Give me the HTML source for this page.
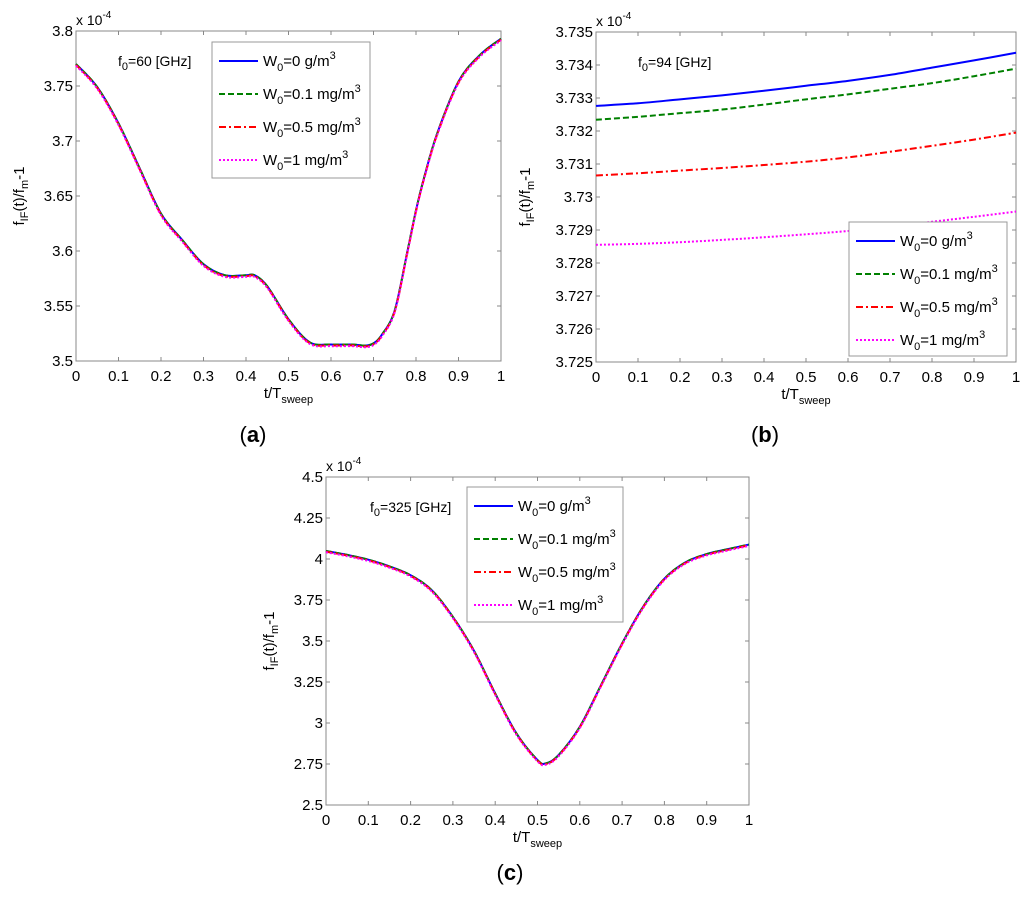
<!DOCTYPE html>
<html><head><meta charset="utf-8"><style>
body{margin:0;background:#fff;}
svg text{font-family:"Liberation Sans",Arial,sans-serif;}
</style></head><body>
<svg id="fig" width="1024" height="892" viewBox="0 0 1024 892" xmlns="http://www.w3.org/2000/svg"></svg>
<script>
// ---------- data ----------
const xTicks = [0,0.1,0.2,0.3,0.4,0.5,0.6,0.7,0.8,0.9,1];
const xTickLabels = ["0","0.1","0.2","0.3","0.4","0.5","0.6","0.7","0.8","0.9","1"];
const seriesNames = ["0 g/m","0.1 mg/m","0.5 mg/m","1 mg/m"];

// panel a (f0=60 GHz), values x1e-4
const aX = [0,0.05,0.1,0.15,0.2,0.25,0.3,0.35,0.4,0.42,0.45,0.5,0.55,0.6,0.65,0.68,0.7,0.72,0.75,0.78,0.8,0.82,0.85,0.9,0.95,1];
const aY = [3.770,3.749,3.716,3.675,3.634,3.610,3.588,3.578,3.578,3.578,3.568,3.538,3.517,3.515,3.515,3.514,3.516,3.524,3.546,3.600,3.637,3.668,3.707,3.754,3.778,3.793];
const aOffsets = [0,0,-0.0008,-0.0015];
const aYTicks = [3.5,3.55,3.6,3.65,3.7,3.75,3.8];
const aYTickLabels = ["3.5","3.55","3.6","3.65","3.7","3.75","3.8"];

// panel b (f0=94 GHz)
const bX = [0,0.1,0.2,0.3,0.4,0.5,0.6,0.7,0.8,0.9,1];
const bBlue = [3.73276,3.73284,3.73296,3.73308,3.73322,3.73337,3.73352,3.73370,3.73392,3.73414,3.73437];
const bGreen = [3.73234,3.73243,3.73254,3.73265,3.73280,3.73296,3.73311,3.73328,3.73345,3.73366,3.73389];
const bRed = [3.73065,3.73072,3.73080,3.73088,3.73097,3.73107,3.73120,3.73137,3.73155,3.73174,3.73195];
const bMagenta = [3.72855,3.72858,3.72863,3.72870,3.72878,3.72887,3.72897,3.72910,3.72925,3.72940,3.72956];
const bYTicks = [3.725,3.726,3.727,3.728,3.729,3.73,3.731,3.732,3.733,3.734,3.735];
const bYTickLabels = ["3.725","3.726","3.727","3.728","3.729","3.73","3.731","3.732","3.733","3.734","3.735"];

// panel c (f0=325 GHz)
const cX = [0,0.05,0.1,0.15,0.2,0.25,0.3,0.35,0.4,0.45,0.5,0.52,0.55,0.6,0.65,0.7,0.75,0.8,0.85,0.9,0.95,1];
const cY = [4.049,4.025,3.996,3.955,3.901,3.810,3.647,3.440,3.180,2.937,2.774,2.754,2.805,2.977,3.230,3.485,3.710,3.880,3.980,4.030,4.060,4.088];
const cOffsets = [0,0,-0.004,-0.008];
const cYTicks = [2.5,2.75,3,3.25,3.5,3.75,4,4.25,4.5];
const cYTickLabels = ["2.5","2.75","3","3.25","3.5","3.75","4","4.25","4.5"];

// ---------- drawing ----------
const NS="http://www.w3.org/2000/svg";
const svg=document.getElementById('fig');
const colors=["#0000ff","#008000","#ff0000","#ff00ff"];
const dashes=["none","6,3","7,3,2,3","2,2"];
function mk(tag,attrs,parent){const e=document.createElementNS(NS,tag);for(const k in attrs)e.setAttribute(k,attrs[k]);(parent||svg).appendChild(e);return e;}
function smoothPath(pts){
  let d="M"+pts[0][0].toFixed(2)+","+pts[0][1].toFixed(2);
  for(let i=0;i<pts.length-1;i++){
    const p0=pts[i-1]||pts[i],p1=pts[i],p2=pts[i+1],p3=pts[i+2]||pts[i+1];
    const c1=[p1[0]+(p2[0]-p0[0])/6,p1[1]+(p2[1]-p0[1])/6];
    const c2=[p2[0]-(p3[0]-p1[0])/6,p2[1]-(p3[1]-p1[1])/6];
    d+=" C"+c1[0].toFixed(2)+","+c1[1].toFixed(2)+" "+c2[0].toFixed(2)+","+c2[1].toFixed(2)+" "+p2[0].toFixed(2)+","+p2[1].toFixed(2);
  }
  return d;
}
function panel(cfg){
  const g=mk('g',{});
  
  
  const {L,R,T,B,ymin,ymax}=cfg;
  const sx=v=>L+(v-0)/(1-0)*(R-L);
  const sy=v=>B-(v-ymin)/(ymax-ymin)*(B-T);
  const fr=mk('rect',{x:L,y:T,width:R-L,height:B-T,fill:'#fff',stroke:'#888','stroke-width':1},g);
  
  
  xTicks.forEach((t,i)=>{
    const x=sx(t);
    mk('line',{x1:x,y1:B,x2:x,y2:B-4,stroke:'#888'},g);
    mk('line',{x1:x,y1:T,x2:x,y2:T+4,stroke:'#888'},g);
    const tx=mk('text',{x:x,y:B+20,'font-size':15,'text-anchor':'middle',fill:'#000'},g);
    tx.textContent=xTickLabels[i];
    
    
  });
  cfg.yTicks.forEach((t,i)=>{
    const y=sy(t);
    mk('line',{x1:L,y1:y,x2:L+4,y2:y,stroke:'#888'},g);
    mk('line',{x1:R,y1:y,x2:R-4,y2:y,stroke:'#888'},g);
    const tx=mk('text',{x:L-3,y:y+5,'font-size':15,'text-anchor':'end',fill:'#000'},g);
    tx.textContent=cfg.yTickLabels[i];
    
    
  });
  const ex=mk('text',{x:L,y:T-6,'font-size':14,fill:'#000'},g);
  ex.innerHTML='x 10<tspan dy="-7" font-size="10">-4</tspan>';
  
  
  cfg.series.forEach((s,i)=>{
    const pts=s.x.map((xv,j)=>[sx(xv),sy(s.y[j])]);
    const p=mk('path',{d:smoothPath(pts),fill:'none',stroke:colors[i],'stroke-width':2,'stroke-dasharray':dashes[i]},g);
    
    
  });
  const an=mk('text',{x:cfg.annX,y:cfg.annY,'font-size':14,fill:'#000'},g);
  an.innerHTML='f<tspan dy="4" font-size="11">0</tspan><tspan dy="-4">='+cfg.freq+' [GHz]</tspan>';
  
  
  const lg=mk('g',{},g);
  
  
  mk('rect',{x:cfg.lx,y:cfg.ly,width:cfg.lw,height:cfg.lh,fill:'#fff',stroke:'#999'},lg);
  seriesNames.forEach((n,i)=>{
    const y=cfg.ly+19+i*33;
    const e=mk('g',{},lg);
    
    
    mk('line',{x1:cfg.lx+7,y1:y,x2:cfg.lx+46,y2:y,stroke:colors[i],'stroke-width':2,'stroke-dasharray':dashes[i]},e);
    const t=mk('text',{x:cfg.lx+51,y:y+5,'font-size':15,fill:'#000'},e);
    t.innerHTML='W<tspan dy="5" font-size="11">0</tspan><tspan dy="-5">='+n+'</tspan><tspan dy="-7" font-size="11">3</tspan>';
  });
  const xl=mk('text',{x:(L+R)/2,y:B+37,'font-size':15,'text-anchor':'middle',fill:'#000'},g);
  xl.innerHTML='t/T<tspan dy="5" font-size="11">sweep</tspan>';
  
  
  const yl=mk('text',{x:0,y:0,'font-size':15,'text-anchor':'middle',fill:'#000',transform:'translate('+cfg.ylx+','+(T+B)/2+') rotate(-90)'},g);
  yl.innerHTML='f<tspan dy="4" font-size="11">IF</tspan><tspan dy="-4">(t)/f</tspan><tspan dy="4" font-size="11">m</tspan><tspan dy="-4">-1</tspan>';
  
  
  const pl=mk('text',{x:cfg.plx,y:cfg.ply,'font-size':22,'text-anchor':'middle',fill:'#000','font-family':'Liberation Serif, serif'},g);
  pl.innerHTML='(<tspan font-weight="bold">'+cfg.letter+'</tspan>)';
  
  
}
panel({name:'panel-a',L:76,R:501,T:31,B:361,ymin:3.5,ymax:3.8,yTicks:aYTicks,yTickLabels:aYTickLabels,
  series:aOffsets.map(o=>({x:aX,y:aY.map(v=>v+o)})),freq:'60',annX:118,annY:66,
  lx:212,ly:42,lw:158,lh:136,ylx:24,plx:253,ply:442,letter:'a'});
panel({name:'panel-b',L:596,R:1016,T:32,B:362,ymin:3.725,ymax:3.735,yTicks:bYTicks,yTickLabels:bYTickLabels,
  series:[bBlue,bGreen,bRed,bMagenta].map(a=>({x:bX,y:a})),freq:'94',annX:638,annY:67,
  lx:849,ly:222,lw:158,lh:134,ylx:530,plx:765,ply:442,letter:'b'});
panel({name:'panel-c',L:326,R:749,T:477,B:805,ymin:2.5,ymax:4.5,yTicks:cYTicks,yTickLabels:cYTickLabels,
  series:cOffsets.map(o=>({x:cX,y:cY.map(v=>v+o)})),freq:'325',annX:370,annY:512,
  lx:467,ly:487,lw:156,lh:135,ylx:274,plx:510,ply:880,letter:'c'});
</script>
</body></html>
